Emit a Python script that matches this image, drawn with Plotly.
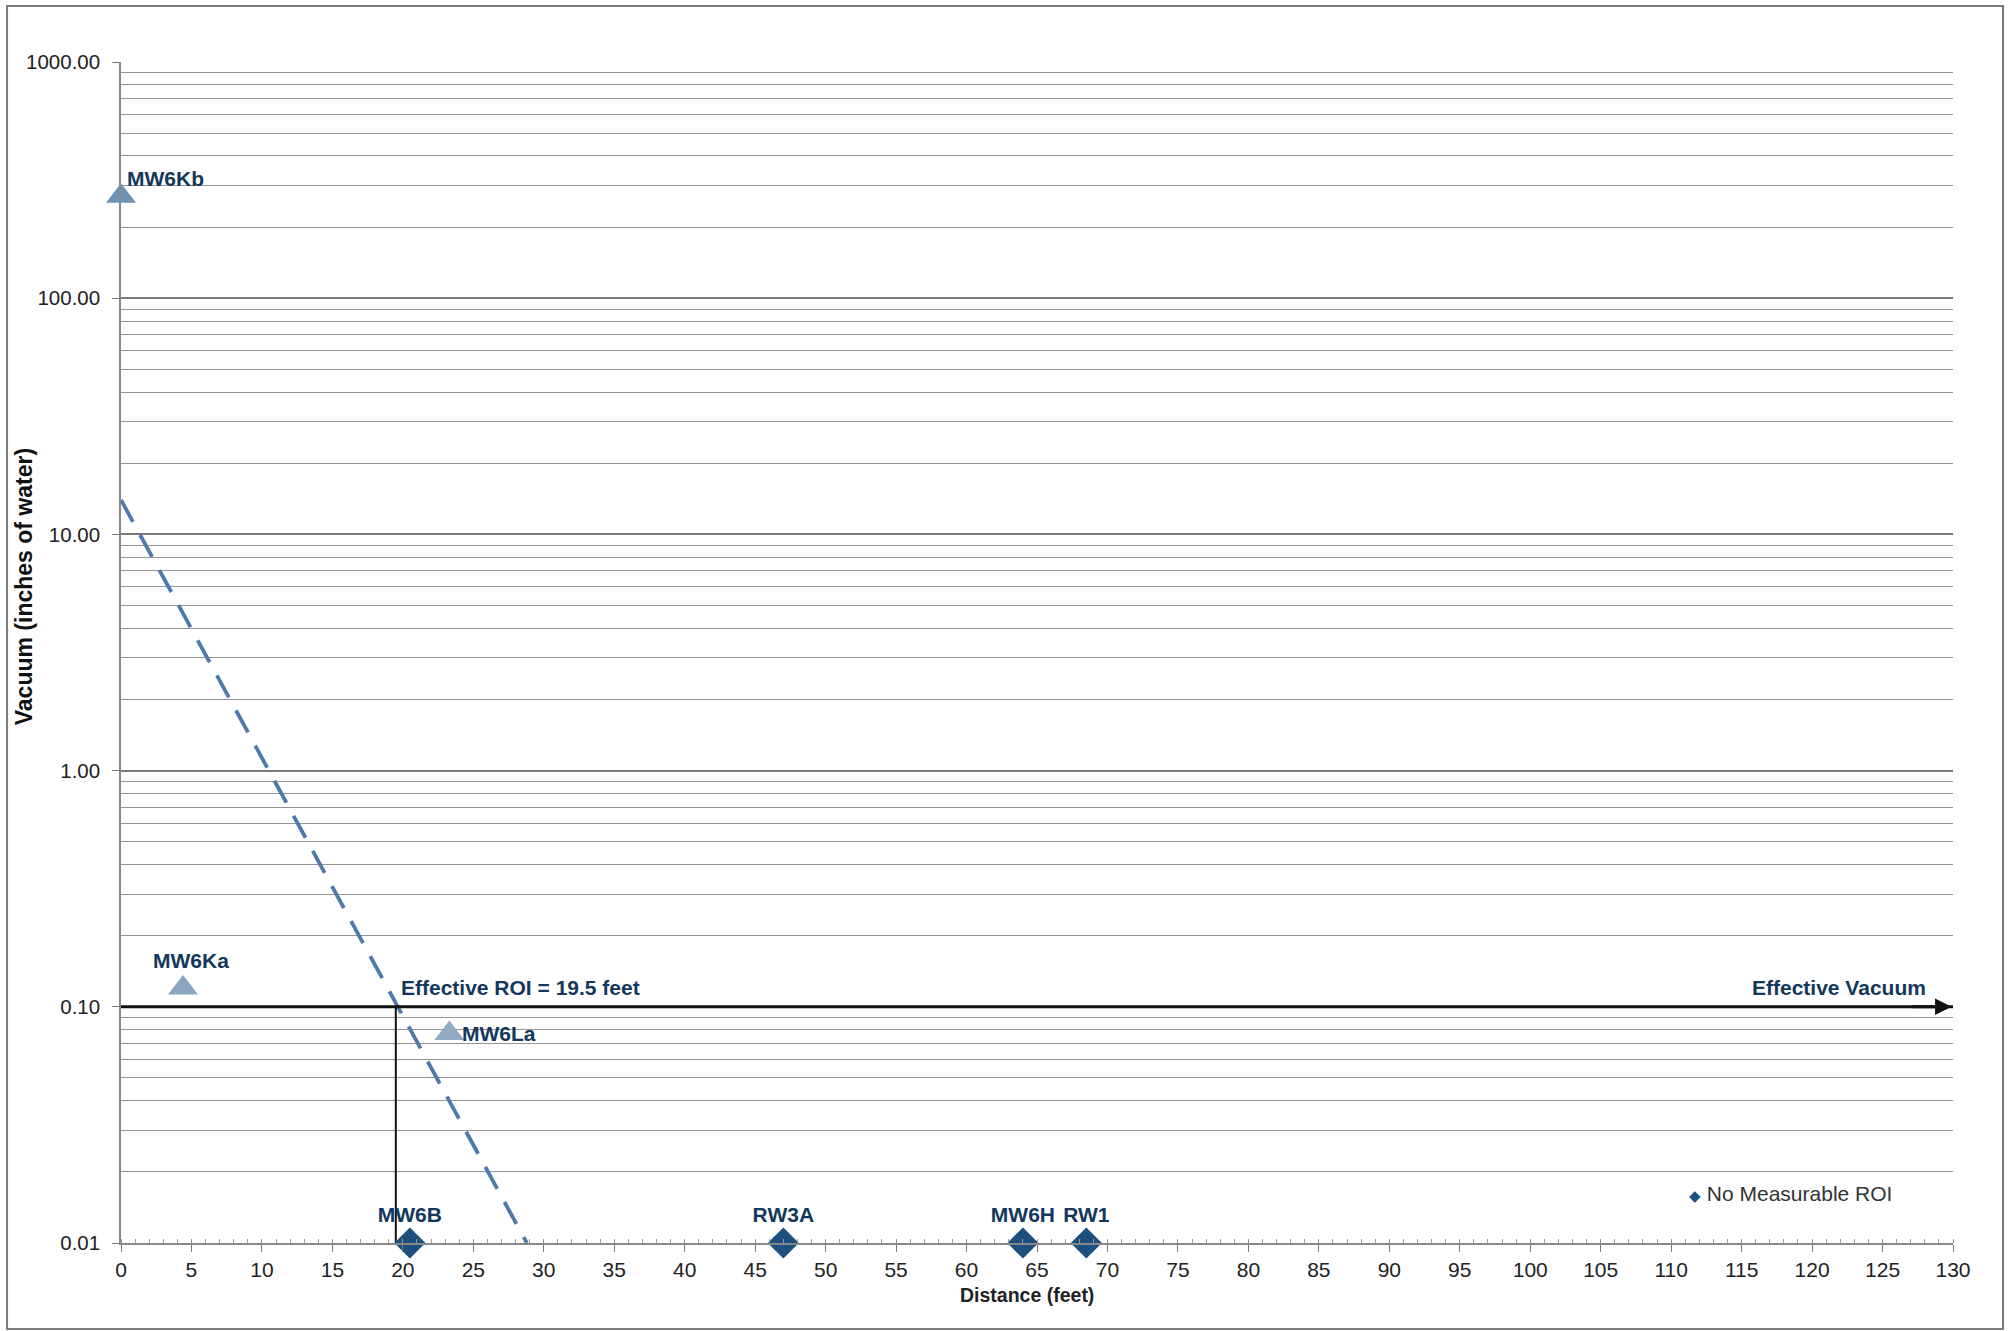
import math
import plotly.graph_objects as go

# Vacuum response measured at observation wells (triangles)
obs_wells = ["MW6Kb", "MW6Ka", "MW6La"]
obs_distance = [0.0, 4.4, 23.3]
obs_vacuum = [270.0, 0.12, 0.077]
obs_colors = ["#6d92b6", "#8ba5be", "#91a9c1"]

# label placement for the observation wells: (xanchor, xshift, yshift)
obs_label_place = [("left", 4, 18), ("center", 8, 28), ("left", 11, 0)]

# Wells with no measurable vacuum (plotted on the axis floor)
nm_wells = ["MW6B", "RW3A", "MW6H", "RW1"]
nm_distance = [20.5, 47.0, 64.0, 68.5]
nm_vacuum = [0.01, 0.01, 0.01, 0.01]

# Log-linear trend of vacuum vs distance
trend_distance = [0.0, 28.8]
trend_vacuum = [14.0, 0.01]

# Effective vacuum threshold and resulting radius of influence
effective_vacuum = 0.10
effective_roi = 19.5
x_max = 130

y_major = [0.01, 0.1, 1, 10, 100, 1000]
y_minor = [m * 10 ** e for e in range(-2, 3) for m in range(2, 10)]
x_ticks = list(range(0, x_max + 1, 5))

NAVY = "#14385c"
DIAMOND = "#1d4f7f"
FONT = "Liberation Sans, Arial, sans-serif"
LABEL_FONT = dict(family=FONT, size=21, color=NAVY, weight="bold")

fig = go.Figure()

# trend line
fig.add_trace(go.Scatter(
    x=trend_distance, y=trend_vacuum, mode="lines",
    line=dict(color="#4f79ad", width=3.8, dash="25px,15px"),
    showlegend=False, hoverinfo="skip"))

# effective vacuum threshold line
fig.add_trace(go.Scatter(
    x=[0, x_max], y=[effective_vacuum, effective_vacuum], mode="lines",
    line=dict(color="#111111", width=3), showlegend=False, hoverinfo="skip"))

# radius of influence drop line
fig.add_trace(go.Scatter(
    x=[effective_roi, effective_roi], y=[nm_vacuum[0], effective_vacuum], mode="lines",
    line=dict(color="#111111", width=2), showlegend=False, hoverinfo="skip"))

# observation wells
fig.add_trace(go.Scatter(
    x=obs_distance, y=obs_vacuum, mode="markers",
    marker=dict(symbol="triangle-up", size=26, color=obs_colors),
    text=obs_wells, showlegend=False, cliponaxis=False))

for name, xd, yv, (anchor, dx, dy) in zip(obs_wells, obs_distance, obs_vacuum, obs_label_place):
    fig.add_annotation(
        x=xd, y=math.log10(yv), xref="x", yref="y", text=name, showarrow=False,
        xanchor=anchor, yanchor="middle", xshift=dx, yshift=dy, font=LABEL_FONT)

# wells with no measurable ROI
fig.add_trace(go.Scatter(
    x=nm_distance, y=nm_vacuum, mode="markers+text",
    marker=dict(symbol="diamond", size=24, color=DIAMOND),
    text=nm_wells, textposition="top center", textfont=LABEL_FONT,
    name="No Measurable ROI", showlegend=False, cliponaxis=False))

# legend entry for the diamond series
fig.add_annotation(
    x=0.855, y=0.042, xref="paper", yref="paper", xanchor="left", yanchor="middle",
    text=f"<span style='color:{DIAMOND};font-size:15px'>◆</span> No Measurable ROI",
    showarrow=False, font=dict(family=FONT, size=21, color="#333333"))

# arrowhead at the end of the threshold line
fig.add_annotation(
    x=x_max - 0.1, y=math.log10(effective_vacuum), ax=x_max - 3, ay=math.log10(effective_vacuum),
    xref="x", yref="y", axref="x", ayref="y", text="", showarrow=True,
    arrowhead=2, arrowsize=1.1, arrowwidth=3, arrowcolor="#111111")

fig.add_annotation(
    x=effective_roi + 0.2, y=math.log10(effective_vacuum), xref="x", yref="y",
    text=f"Effective ROI = {effective_roi} feet", showarrow=False,
    xanchor="left", yanchor="bottom", yshift=6, font=LABEL_FONT)

fig.add_annotation(
    x=x_max - 1.8, y=math.log10(effective_vacuum), xref="x", yref="y",
    text="Effective Vacuum", showarrow=False,
    xanchor="right", yanchor="bottom", yshift=6, font=LABEL_FONT)

# axis titles
fig.add_annotation(
    x=-0.053, y=0.556, xref="paper", yref="paper", text="Vacuum (inches of water)",
    textangle=-90, showarrow=False, xanchor="center", yanchor="middle",
    font=dict(family=FONT, size=23, color="#111111", weight="bold"))
fig.add_annotation(
    x=0.4945, y=-0.044, xref="paper", yref="paper", text="Distance (feet)",
    showarrow=False, xanchor="center", yanchor="middle",
    font=dict(family=FONT, size=19.5, color="#222222", weight="bold"))

# outer chart frame
fig.add_shape(type="rect", xref="paper", yref="paper",
              x0=-0.0622, x1=1.0273, y0=-0.0728, y1=1.0474,
              line=dict(color="#7a7a7a", width=2))

fig.update_layout(
    width=2011, height=1331,
    margin=dict(l=121, r=58, t=62, b=88),
    paper_bgcolor="white", plot_bgcolor="white",
    font=dict(family=FONT, size=20, color="#222222"),
    showlegend=False,
    xaxis=dict(
        range=[0, x_max], tickvals=x_ticks, ticks="outside", ticklen=7,
        tickcolor="#777777", showgrid=False, zeroline=False,
        showline=True, linecolor="#888888", linewidth=1.5,
        minor=dict(dtick=1, ticks="inside", ticklen=4, tickcolor="#999999"),
        tickfont=dict(size=21, color="#222222")),
    yaxis=dict(
        type="log", range=[-2, 3], tickvals=y_major,
        ticktext=[f"{v:.2f}" for v in y_major],
        ticks="outside", ticklen=7, tickcolor="#777777", ticklabelstandoff=8,
        showgrid=True, gridcolor="#7a7a7a", gridwidth=1.6,
        showline=True, linecolor="#888888", linewidth=1.5, zeroline=False,
        minor=dict(tickvals=y_minor, showgrid=True, gridcolor="#949494", gridwidth=1.4, ticks=""),
        tickfont=dict(size=20.5, color="#222222")),
)

fig.write_html("out.html")
